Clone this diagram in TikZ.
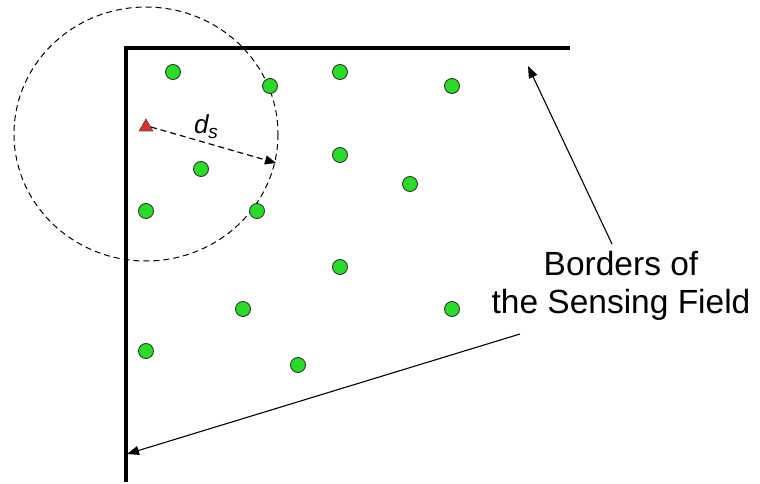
\documentclass[tikz,border=0pt]{standalone}
\usepackage{fontspec}
\setmainfont{Liberation Sans}
\usetikzlibrary{arrows.meta,shapes.geometric}
\definecolor{dotgreen}{RGB}{40,220,40}
\definecolor{trired}{RGB}{220,50,40}
\begin{document}
\begin{tikzpicture}[x=1pt,y=-1pt,
  sensor/.style={circle,draw=black!80,fill=dotgreen,line width=0.9pt,minimum size=15pt,inner sep=0pt},
  border/.style={line width=4pt},
  pointer/.style={line width=1.1pt,-{Triangle[length=12pt,width=9pt]}},
  lbl/.style={font=\fontsize{33.5}{38}\selectfont,align=center}]
\useasboundingbox (0,0) rectangle (760,484);
% borders
\coordinate (bl) at (126,482);
\coordinate (tl) at (126,48);
\coordinate (tr) at (570,48);
\draw[border] (bl) -- (tl) -- (tr);
% sensing circle
\coordinate (ctr) at (146,134);
\draw[line width=1pt,dash pattern=on 6pt off 4pt] (ctr) ellipse [x radius=132, y radius=127];
% sensors
\foreach \n/\x/\y in {a/173/72,b/270/86,c/340/72,d/452/86,e/201/169,f/340/155,g/410/184,h/146/211,i/257/211,j/340/267,k/243/309,l/452/309,m/146/351,n/298/365}
  \node[sensor] (\n) at (\x,\y) {};
% triangle
\node[isosceles triangle,isosceles triangle apex angle=60,shape border rotate=90,draw=black!70,fill=trired,line width=0.6pt,minimum height=12pt,inner sep=0pt] (tri) at (146,127) {};
\coordinate (rad) at (276,163);
\draw[line width=1.2pt,dash pattern=on 6pt off 4pt,-{Triangle[length=11pt,width=9pt]}] (tri.east) -- (rad);
\node[font=\fontsize{26}{30}\selectfont\itshape,inner sep=0pt] (ds) at (206,127) {d\raisebox{-5pt}{\fontsize{19}{22}\selectfont s}};
% label
\node[lbl] (txt) at (621,286) {Borders of\\the Sensing Field};
\coordinate (p1) at (612,244);
\coordinate (p2) at (520,334);
\coordinate (t1) at (528,66);
\coordinate (t2) at (127,454);
\draw[pointer] (p1) -- (t1);
\draw[pointer] (p2) -- (t2);
\end{tikzpicture}
\end{document}
